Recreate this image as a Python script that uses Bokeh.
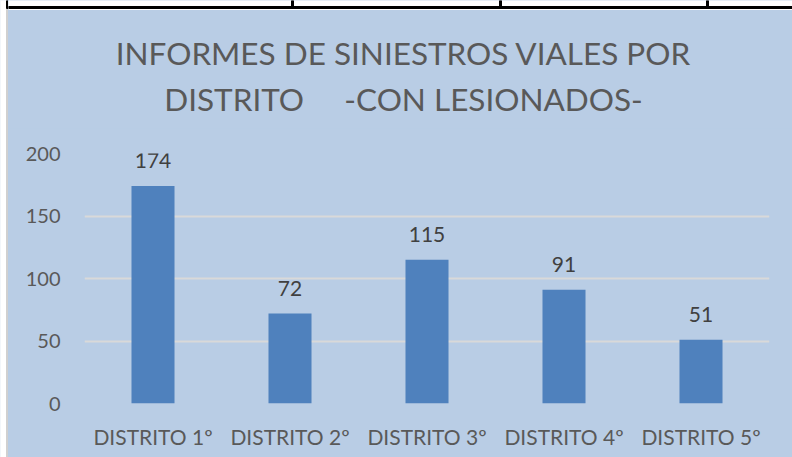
from bokeh.plotting import figure
from bokeh.models import ColumnDataSource, FixedTicker, LabelSet, Range1d
from bokeh.core.properties import value
from bokeh.layouts import row, column
from bokeh.embed import file_html
from bokeh.resources import INLINE

categories = ["DISTRITO 1º", "DISTRITO 2º", "DISTRITO 3º", "DISTRITO 4º", "DISTRITO 5º"]
values = [174, 72, 115, 91, 51]
y_ticks = [0, 50, 100, 150, 200]
title_line1 = "INFORMES DE SINIESTROS VIALES POR"
title_line2 = "DISTRITO     -CON LESIONADOS-"

BG = "#B9CDE5"
BAR = "#4F81BD"
GRID = "#D9D9D9"
TXT = "#595959"
FONT = "Lato"


def bare(w, h, xr, yr):
    f = figure(width=w, height=h, x_range=xr, y_range=yr, output_backend="svg",
               toolbar_location=None, x_axis_location=None, y_axis_location=None,
               min_border=0)
    f.grid.visible = False
    f.outline_line_color = None
    f.background_fill_color = BG
    f.border_fill_color = BG
    f.frame_align = False
    return f


# left page strip (white margin + grey chart edge + table line stub)
strip = bare(8, 457, Range1d(0, 8), Range1d(457, 0))
strip.quad(left=[0], right=[6], top=[0], bottom=[457], color="white")
strip.quad(left=[6], right=[8], top=[9], bottom=[457], color="#D0D0D0")
strip.quad(left=[6], right=[8], top=[0], bottom=[8], color="black")

# title band
head = bare(784, 128, Range1d(8, 792), Range1d(128, 0))
head.quad(left=[8], right=[792], top=[0], bottom=[9], color="white")
head.quad(left=[8], right=[792], top=[6], bottom=[8], color="black")
head.quad(left=[291, 499, 706], right=[293, 501, 708], top=[0, 0, 0], bottom=[7, 7, 7],
          color="black")
head.text(x=[403, 403], y=[52, 98],
          text=[title_line1, title_line2.replace(" ", "\u00a0")],
          text_align="center", text_baseline="middle", text_font=value(FONT),
          text_font_size="31.5px", text_color=TXT)

# chart
src = ColumnDataSource(dict(cat=categories, val=values, lab=[str(v) for v in values]))

p = figure(x_range=categories, y_range=(0, 200), width=784, height=329,
           output_backend="svg", toolbar_location=None,
           min_border_left=76, min_border_right=23, min_border_top=25, min_border_bottom=54)
p.frame_align = False
p.background_fill_color = BG
p.border_fill_color = BG
p.outline_line_color = None
p.x_range.range_padding = 0

p.vbar(x="cat", top="val", width=0.314, source=src, color=BAR, line_color=None)

labels = LabelSet(x="cat", y="val", text="lab", source=src, text_align="center",
                  text_baseline="bottom", y_offset=18, text_font=value(FONT),
                  text_font_size="21px", text_color="#404040")
p.add_layout(labels)

p.xgrid.grid_line_color = None
p.ygrid.grid_line_color = GRID
p.ygrid.grid_line_width = 2
p.yaxis.ticker = FixedTicker(ticks=y_ticks)

for ax in (p.xaxis[0], p.yaxis[0]):
    ax.axis_line_color = None
    ax.major_tick_line_color = None
    ax.minor_tick_line_color = None
    ax.major_tick_out = 0
    ax.major_tick_in = 0
    ax.major_label_text_font = FONT
    ax.major_label_text_color = TXT

p.yaxis.major_label_text_font_size = "20px"
p.yaxis.major_label_standoff = 24
p.xaxis.major_label_text_font_size = "21px"
p.xaxis.major_label_standoff = 20

right = column(head, p, spacing=0, styles={"background-color": BG})
layout = row(strip, right, spacing=0)
open("out.html", "w").write(file_html(layout, INLINE))
